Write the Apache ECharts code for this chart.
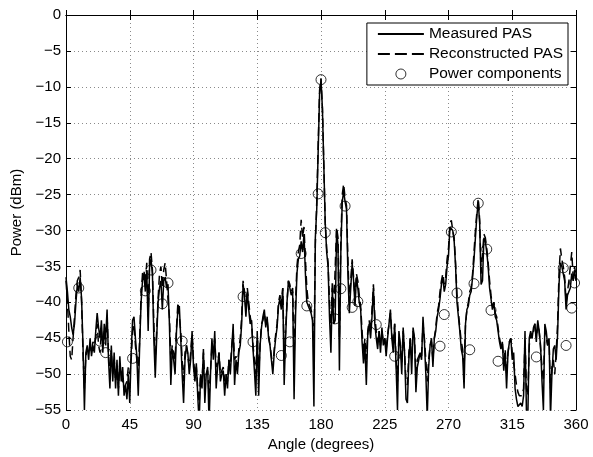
<!DOCTYPE html>
<html>
<head>
<meta charset="utf-8">
<script src="https://cdn.jsdelivr.net/npm/echarts@6/dist/echarts.min.js"></script>
<style>
  html, body { margin: 0; padding: 0; background: #fff; }
  #pas_chart { width: 593px; height: 457px; }
</style>
</head>
<body>
<div id="pas_chart"></div>
<script>
// measured PAS, one value per degree (0..360)
const measuredPAS = [
  -36.5, -38.5, -41, -42, -43.5, -44.5, -43, -40, -37.5, -38.5,
  -36.5, -39.5, -46, -55, -47, -46, -48, -45, -47.5, -46,
  -47, -44, -41.5, -43.5, -45, -42.5, -47, -43, -45, -41,
  -48, -52, -46, -51, -47, -52, -48, -53, -47.5, -51,
  -49, -53, -51.5, -53.5, -50, -54, -47, -42.5, -42, -45,
  -47.5, -53, -46, -40, -37, -36, -38.5, -35.5, -44, -35,
  -34, -36, -45, -50.5, -45, -40, -38, -37, -41, -37,
  -36.5, -38, -37.5, -43, -51.5, -46.5, -48, -50, -44, -41,
  -40.5, -45, -50, -54, -48, -46, -47, -50, -48, -44,
  -49, -51, -48.5, -53, -57, -50, -52, -46.5, -54, -50,
  -49, -57, -50, -45, -48, -44, -52, -49, -47, -51,
  -50, -49.5, -53, -50, -52, -48, -50, -46.5, -43, -51.5,
  -48, -50, -47, -46, -43, -37.5, -39, -42, -38.5, -41,
  -43, -42.5, -46.5, -49.5, -53, -44, -53, -46, -43.5, -42,
  -41, -43.5, -42, -45, -46, -48, -50, -47, -45, -43.5,
  -40.5, -39.5, -41, -38, -51.5, -45, -40, -37, -38, -39,
  -38.5, -53.5, -42, -36, -34, -33.5, -31.5, -33, -30.5, -36,
  -40, -40.5, -41, -41.5, -42.5, -54.5, -31, -27, -19, -11,
  -9, -13, -21, -29, -33, -35, -42, -47, -38, -43,
  -42.5, -30, -32, -49.5, -33, -26, -24.5, -26, -27, -36,
  -41.5, -38, -34.5, -37, -40.5, -36.5, -38, -40, -41, -45.5,
  -48.5, -46, -51.5, -44.5, -43, -45, -42, -38, -43, -45,
  -46.5, -44, -47, -43.5, -46, -45, -47.5, -45, -43, -41,
  -45, -47, -43, -49, -55, -44, -46, -50, -43.5, -47,
  -53.5, -54, -48, -45, -50, -43.5, -45, -52.5, -49, -48,
  -47, -48, -42, -45.5, -50, -56, -49, -46, -45, -49,
  -45, -44, -42, -41, -39.5, -37.5, -36.5, -38.5, -37.5, -35,
  -33.5, -29.5, -29.5, -30, -31.5, -35, -40, -42, -44, -46.5,
  -47.5, -52, -43, -41, -40.5, -39, -38.5, -36.5, -34, -31,
  -28, -26, -29, -37.5, -37, -31, -31.5, -33, -35, -38,
  -39.5, -41, -40, -42, -42.5, -44, -45.5, -46.5, -45.5, -49.5,
  -47, -52, -47, -45.5, -45, -48, -47, -52, -53.5, -54.5,
  -54.5, -54, -54.5, -53, -44, -55, -56, -45, -44, -45,
  -43.5, -43, -45.5, -42.5, -44, -46, -51, -55, -43, -44,
  -46, -45, -56, -50, -46.5, -46, -48, -44.5, -37.5, -34.5,
  -35, -35, -37, -41, -39, -38.5, -38, -36, -37, -35.5,
  -37
];

// reconstructed PAS, one value per degree (0..360)
const reconstructedPAS = [
  -37, -40, -44, -47.5, -48, -45, -42, -39, -37, -36.5,
  -35.5, -40, -47, -52, -47.5, -46.5, -47, -46, -47, -45.5,
  -46, -45, -43, -46, -47, -44, -46, -44, -46, -42,
  -47, -50, -47, -50, -48, -51, -49, -52, -48.5, -50,
  -50, -52, -52, -51, -49, -50, -48, -44, -43, -46,
  -48, -50, -45, -39, -36, -35.5, -37.5, -34.5, -42, -34,
  -33, -35.5, -43, -48, -44, -39.5, -36, -35, -38, -35.5,
  -34.5, -37, -37, -42, -48, -46, -47, -48, -43.5, -40,
  -40, -44, -48, -51, -47, -46, -47.5, -49, -47, -44.5,
  -48, -50, -49, -52, -54, -50, -51, -47, -51, -50,
  -49.5, -53, -49.5, -46, -47, -45, -49, -48.5, -47, -50,
  -49.5, -49, -51, -50, -51, -48, -49, -46, -44, -48,
  -47.5, -49, -46.5, -45, -42, -37, -38.5, -41, -38, -40,
  -42, -43, -46, -48, -50, -45, -50, -46, -43, -42.5,
  -41.5, -43, -42.5, -44.5, -46, -47.5, -49, -46.5, -44.5, -43,
  -40, -39, -40.5, -38, -47, -44, -40, -37, -37.5, -38.5,
  -38, -48, -40, -35, -33, -32, -28.5, -31, -29.5, -34,
  -38, -40, -40.5, -41, -42, -47, -32, -26, -18, -10.5,
  -8.8, -13, -21, -29, -32.5, -34.5, -40, -44, -37, -41,
  -41, -29.5, -31, -45, -31.5, -25, -23.5, -25.5, -26.5, -34,
  -40, -37, -34, -36.5, -39.5, -36, -37, -39, -40.5, -44,
  -47, -45, -48, -44, -42.5, -44, -41, -37.5, -42, -44,
  -45.5, -44, -46, -44, -45.5, -45, -46.5, -44.5, -43, -41.5,
  -44.5, -46, -43, -48, -51, -44.5, -46, -48.5, -44, -47,
  -51, -51.5, -47, -45, -48, -44, -45, -50, -48, -47.5,
  -47, -47.5, -43, -45, -48, -51, -48, -46, -45.5, -48,
  -45, -43.5, -41.5, -40.5, -38.5, -37, -36, -37.5, -36.5, -34,
  -32.5, -29, -28.6, -30, -31, -34.5, -39, -41.5, -43.5, -45.5,
  -46.5, -49, -43, -41, -40, -38.5, -38, -36, -33, -30,
  -27.5, -25.5, -28.5, -36, -36, -30.5, -31, -32.5, -34.5, -37,
  -39, -40.5, -40, -41.5, -42, -43.5, -45, -46, -45.5, -48,
  -46.5, -50, -47, -45.5, -45, -47, -47, -50, -51.5, -52.5,
  -53, -53, -53, -52, -45, -52, -53, -46, -44.5, -45,
  -44, -43, -45, -43, -44, -46.5, -49, -51, -44, -44,
  -46, -45.5, -52, -49, -48, -50, -47, -43, -36, -32.5,
  -34, -35, -36.5, -40, -38.5, -37, -37, -33, -36.5, -35,
  -36.5
];

// power components (circles)
const compAngles = [1, 9, 24, 28, 47, 56, 60, 68, 72, 82, 125, 132, 152, 158, 166, 170, 178, 180,
  183, 190, 194, 197, 202, 206, 219, 232, 264, 267, 272, 276, 285, 288, 291, 297, 300, 305,
  332, 351, 353, 357, 359];
const compPower = [-45.5, -38, -45.4, -47, -47.8, -38.4, -35.5, -40.2, -37.3, -45.4, -39.2, -45.5, -47.4, -45.5, -33.2, -40.5, -24.9, -9,
  -30.3, -42.3, -38.1, -26.6, -40.7, -39.9, -43.1, -47.5, -46.1, -41.7, -30.2, -38.7, -46.6, -37.4, -26.2, -32.6, -41.1, -48.2,
  -47.6, -35.2, -46, -40.8, -37.3];

const xTicks = { min: 0, max: 360, interval: 45 };
const yTicks = { min: -55, max: 0, interval: 5 };

// matlab style minus sign
function minus(v) {
  return String(v).replace('-', '\u2212');
}

const font = 'Liberation Sans, Arial, Helvetica, sans-serif';
const measuredData = measuredPAS.map((v, i) => [i, v]);
const reconstructedData = reconstructedPAS.map((v, i) => [i, v]);
const compData = compAngles.map((a, i) => [a, compPower[i]]);

const chart = echarts.init(document.getElementById('pas_chart'), null, { renderer: 'canvas' });

const gridLine = { show: true, lineStyle: { color: '#8a8a8a', type: [1, 3], width: 1 } };
const axisTick = { show: true, inside: true, length: 5, lineStyle: { color: '#000' } };

const option = {
  backgroundColor: '#fff',
  animation: false,
  textStyle: { fontFamily: font, color: '#000' },
  grid: { left: 66, right: 17, top: 15, bottom: 39, show: false },
  legend: {
    orient: 'vertical',
    right: 25,
    top: 23,
    padding: [3, 5, 3, 10],
    itemWidth: 46,
    itemHeight: 10,
    itemGap: 4,
    backgroundColor: '#fff',
    borderColor: '#000',
    borderWidth: 1,
    borderRadius: 0,
    textStyle: { fontFamily: font, fontSize: 15.5, color: '#000' },
    // hide the symbol on the line entries, keep only the line
    data: [
      { name: 'Measured PAS', itemStyle: { opacity: 0 } },
      { name: 'Reconstructed PAS', itemStyle: { opacity: 0 }, lineStyle: { type: [12, 5] } },
      { name: 'Power components', itemStyle: { borderWidth: 1 } }
    ]
  },
  xAxis: [
    {
      type: 'value', min: xTicks.min, max: xTicks.max, interval: xTicks.interval,
      name: 'Angle (degrees)', nameLocation: 'middle', nameGap: 24,
      nameTextStyle: { fontFamily: font, fontSize: 15, color: '#000' },
      axisLine: { show: true, lineStyle: { color: '#000', width: 1 } },
      axisTick: axisTick,
      axisLabel: { fontFamily: font, fontSize: 15, color: '#000', margin: 7 },
      splitLine: gridLine
    },
    {
      type: 'value', position: 'top', min: xTicks.min, max: xTicks.max, interval: xTicks.interval,
      axisLine: { show: true, onZero: false, lineStyle: { color: '#000', width: 1 } },
      axisTick: axisTick,
      axisLabel: { show: false },
      splitLine: { show: false }
    }
  ],
  yAxis: [
    {
      type: 'value', min: yTicks.min, max: yTicks.max, interval: yTicks.interval,
      name: 'Power (dBm)', nameLocation: 'middle', nameGap: 38, nameRotate: 90,
      nameTextStyle: { fontFamily: font, fontSize: 15, color: '#000' },
      axisLine: { show: true, onZero: false, lineStyle: { color: '#000', width: 1 } },
      axisTick: axisTick,
      axisLabel: { fontFamily: font, fontSize: 15, color: '#000', margin: 5, formatter: minus },
      splitLine: gridLine
    },
    {
      type: 'value', position: 'right', min: yTicks.min, max: yTicks.max, interval: yTicks.interval,
      axisLine: { show: true, onZero: false, lineStyle: { color: '#000', width: 1 } },
      axisTick: axisTick,
      axisLabel: { show: false },
      splitLine: { show: false }
    }
  ],
  series: [
    {
      name: 'Reconstructed PAS',
      type: 'line',
      data: reconstructedData,
      symbol: 'none',
      clip: true,
      lineStyle: { color: '#000', width: 1.5, type: [9, 5] },
      itemStyle: { color: '#000' },
      z: 2
    },
    {
      name: 'Measured PAS',
      type: 'line',
      data: measuredData,
      symbol: 'none',
      clip: true,
      lineStyle: { color: '#000', width: 1.5, type: 'solid' },
      itemStyle: { color: '#000' },
      z: 3
    },
    {
      name: 'Power components',
      type: 'scatter',
      data: compData,
      symbol: 'circle',
      symbolSize: 10,
      itemStyle: { color: 'rgba(255,255,255,0)', borderColor: '#000', borderWidth: 1 },
      z: 4
    }
  ]
};

option && chart.setOption(option);
</script>
</body>
</html>
